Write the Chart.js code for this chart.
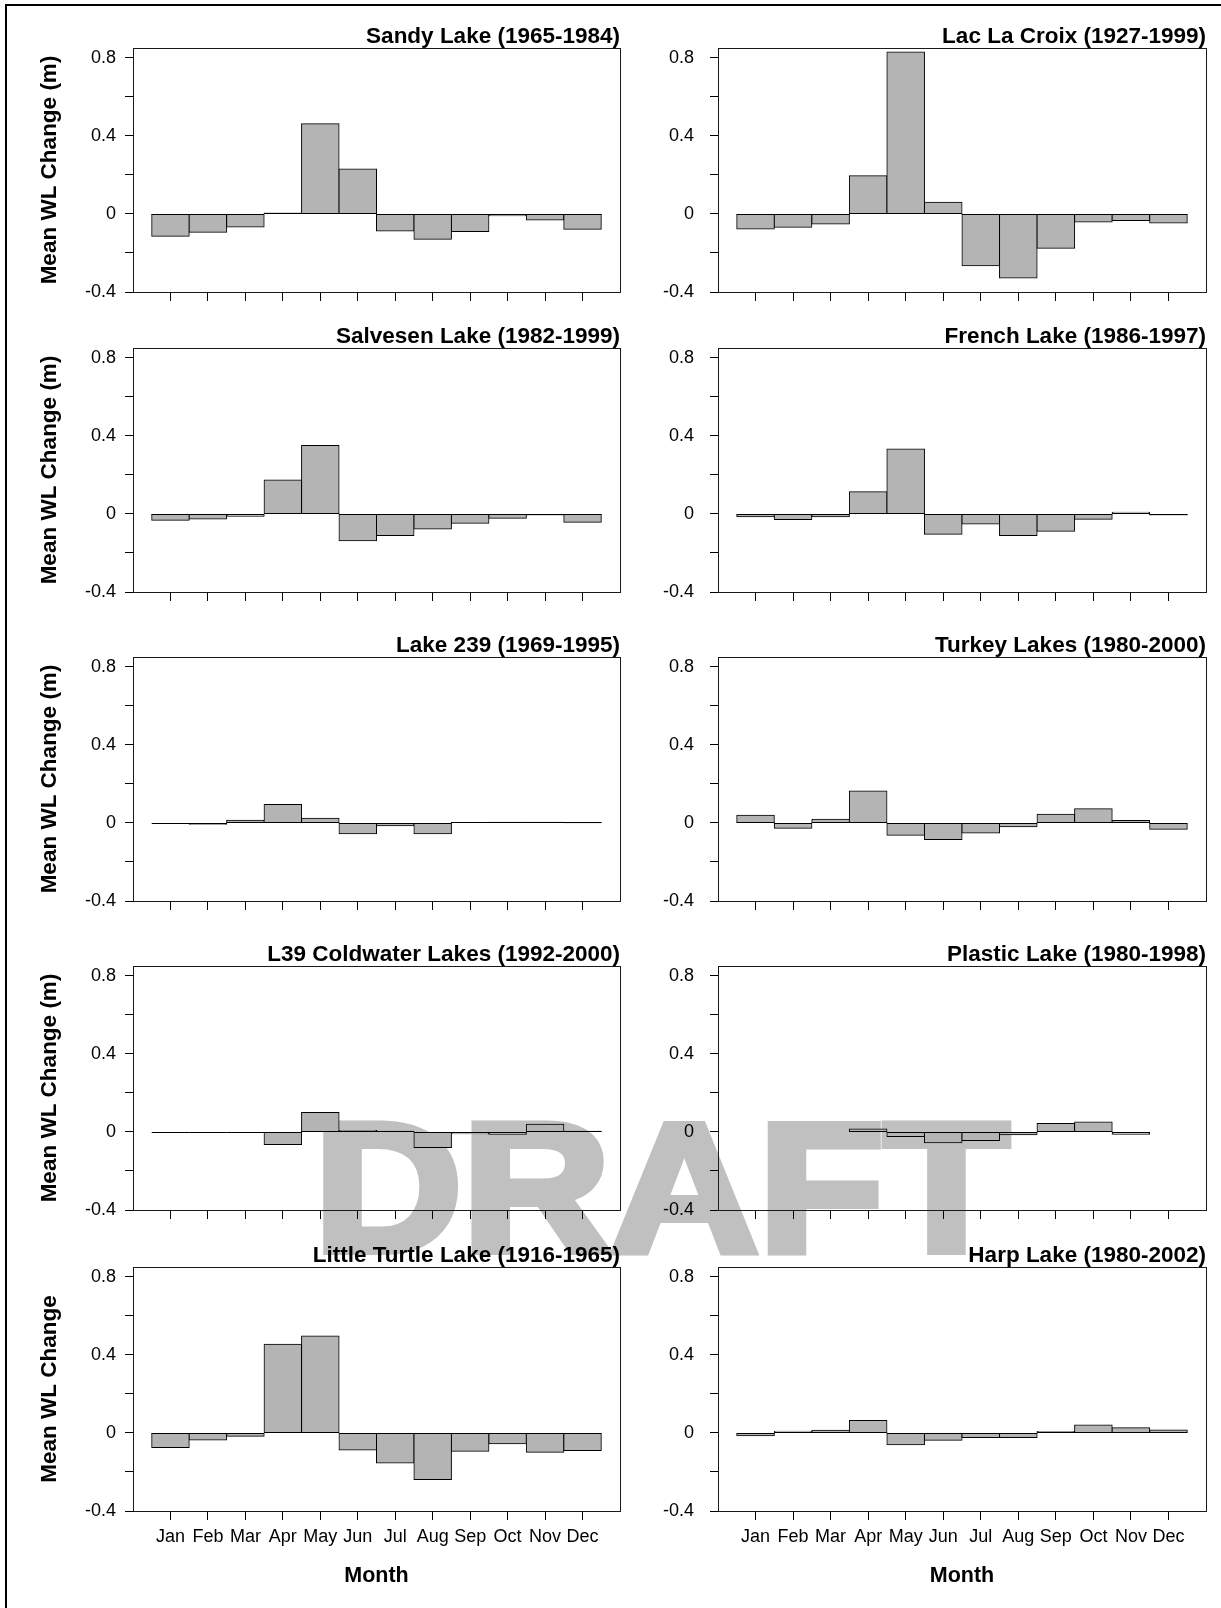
<!DOCTYPE html>
<html lang="en">
<head>
  <meta charset="UTF-8">
  <title>Mean Monthly Water Level Change</title>
  <script src="https://cdn.jsdelivr.net/npm/chart.js@4"></script>
  <style>
    body {
      margin: 0;
      width: 1221px;
      height: 1608px;
      position: relative;
      overflow: hidden;
      background: #ffffff;
      font-family: 'Liberation Sans', Arial, sans-serif;
    }

    .page-frame {
      position: absolute;
      left: 5px;
      top: 4px;
      right: 0;
      bottom: 0;
      border-top: 2px solid #000;
      border-left: 2px solid #000;
    }

    .draft {
      position: absolute;
      left: 314px;
      top: 1095px;
      font-family: 'Liberation Sans', Arial, sans-serif;
      font-size: 184px;
      font-weight: 700;
      line-height: 1;
      color: #c0c0c0;
      -webkit-text-stroke: 8px #c0c0c0;
      white-space: nowrap;
      transform: scaleX(1.115);
      transform-origin: 0 0;
      z-index: 0;
    }

    canvas {
      position: absolute;
      z-index: 1;
    }
  </style>
</head>
<body>

  <div class="page-frame"></div>
  <div class="draft">DRAFT</div>

  <script>
    // data (m), Jan..Dec; null = no bar
    const months = ['Jan', 'Feb', 'Mar', 'Apr', 'May', 'Jun', 'Jul', 'Aug', 'Sep', 'Oct', 'Nov', 'Dec'];

    const sandyLake     = [-0.114, -0.094, -0.067, 0.005, 0.462, 0.230, -0.087, -0.130, -0.090, -0.009, -0.031, -0.078];
    const lacLaCroix    = [-0.077, -0.068, -0.051, 0.196, 0.829, 0.060, -0.266, -0.328, -0.176, -0.041, -0.034, -0.046];
    const salvesenLake  = [-0.032, -0.026, -0.012, 0.174, 0.350, -0.138, -0.111, -0.077, -0.048, -0.022, -0.005, -0.043];
    const frenchLake    = [-0.014, -0.029, -0.015, 0.113, 0.333, -0.104, -0.051, -0.111, -0.089, -0.027, 0.009, -0.005];
    const lake239       = [0, -0.007, 0.014, 0.094, 0.024, -0.055, -0.015, -0.055, 0.002, 0.003, 0.003, 0.001];
    const turkeyLakes   = [0.039, -0.027, 0.019, 0.164, -0.063, -0.085, -0.051, -0.019, 0.044, 0.073, 0.012, -0.032];
    const l39Coldwater  = [0, 0, 0, -0.065, 0.099, 0.007, 0.003, -0.080, -0.010, -0.012, 0.039, 0.003];
    const plasticLake   = [null, null, null, 0.015, -0.024, -0.055, -0.044, -0.015, 0.043, 0.051, -0.012, null];
    const littleTurtle  = [-0.075, -0.036, -0.017, 0.454, 0.497, -0.087, -0.154, -0.239, -0.094, -0.055, -0.099, -0.090];
    const harpLake      = [-0.015, 0.009, 0.014, 0.063, -0.060, -0.038, -0.024, -0.024, 0.007, 0.041, 0.026, 0.015];

    const titles = [
      'Sandy Lake (1965-1984)', 'Lac La Croix (1927-1999)',
      'Salvesen Lake (1982-1999)', 'French Lake (1986-1997)',
      'Lake 239 (1969-1995)', 'Turkey Lakes (1980-2000)',
      'L39 Coldwater Lakes (1992-2000)', 'Plastic Lake (1980-1998)',
      'Little Turtle Lake (1916-1965)', 'Harp Lake (1980-2002)'
    ];
    const series = [sandyLake, lacLaCroix, salvesenLake, frenchLake, lake239,
                    turkeyLakes, l39Coldwater, plasticLake, littleTurtle, harpLake];

    const yMin = -0.4;
    const yMax = 0.85;
    const yStep = 0.2;
    const yLabels = [-0.4, 0, 0.4, 0.8];

    // page layout
    const colLeft = [10, 600];
    const colWidth = [612, 608];
    const axisWidth = [123, 118];
    const labelPad = [9, 16];
    const rowTop = [23, 323, 632, 941, 1242];
    const titleH = 25;
    const plotH = 244;

    Chart.defaults.font.family = "'Liberation Sans', Arial, sans-serif";
    Chart.defaults.color = '#000';

    // box round the plot area
    const framePlugin = {
      id: 'frame',
      afterDatasetsDraw(chart) {
        const { ctx, chartArea: a } = chart;
        const l = Math.round(a.left), t = Math.round(a.top);
        const r = Math.round(a.right), b = Math.round(a.bottom);
        ctx.save();
        ctx.strokeStyle = '#1a1a1a';
        ctx.lineWidth = 1;
        ctx.strokeRect(l + 0.5, t + 0.5, r - l, b - t);
        ctx.restore();
      }
    };

    // zero line under each bar (also shows the zero-valued months)
    const basePlugin = {
      id: 'baseLine',
      afterDatasetsDraw(chart) {
        const ctx = chart.ctx;
        const values = chart.data.datasets[0].data;
        ctx.save();
        ctx.strokeStyle = '#000';
        ctx.lineWidth = 1;
        chart.getDatasetMeta(0).data.forEach((bar, i) => {
          if (values[i] === null) return;
          const y = Math.round(bar.base) + 0.5;
          ctx.beginPath();
          ctx.moveTo(bar.x - bar.width / 2, y);
          ctx.lineTo(bar.x + bar.width / 2, y);
          ctx.stroke();
        });
        ctx.restore();
      }
    };

    function makePanel(k) {
      const col = k % 2;
      const row = Math.floor(k / 2);
      const last = row === rowTop.length - 1;
      const xH = last ? 80 : 9;

      const canvas = document.createElement('canvas');
      canvas.width = colWidth[col];
      canvas.height = titleH + plotH + xH;
      canvas.style.left = colLeft[col] + 'px';
      canvas.style.top = rowTop[row] + 'px';
      document.body.appendChild(canvas);

      // empty slot at each end, months on the ticks in between
      const labels = [''].concat(months, ['']);
      const data = [null].concat(series[k], [null]);

      new Chart(canvas, {
        type: 'bar',
        data: {
          labels: labels,
          datasets: [{
            data: data,
            backgroundColor: '#b4b4b4',
            borderColor: '#000',
            borderWidth: 1,
            borderSkipped: false,
            inflateAmount: 0.5,
            barPercentage: 1,
            categoryPercentage: 1
          }]
        },
        options: {
          responsive: false,
          animation: false,
          events: [],
          layout: { padding: { left: 0, top: 0, bottom: 0, right: 2 } },
          plugins: {
            legend: { display: false },
            tooltip: { enabled: false },
            title: {
              display: true,
              text: titles[k],
              align: 'end',
              color: '#000',
              font: { size: 22.5, weight: 'bold', lineHeight: 1.2 },
              padding: { top: 0, bottom: -2 }
            }
          },
          scales: {
            x: {
              type: 'category',
              offset: false,
              border: { display: false },
              grid: {
                offset: false,
                drawOnChartArea: false,
                drawTicks: true,
                tickLength: 9,
                color: c => (c.index === 0 || c.index === labels.length - 1) ? 'rgba(0,0,0,0)' : '#000'
              },
              ticks: {
                display: last,
                autoSkip: false,
                maxRotation: 0,
                padding: 6,
                color: '#000',
                font: { size: 18 }
              },
              title: {
                display: last,
                text: 'Month',
                color: '#000',
                font: { size: 21.5, weight: 'bold' },
                padding: { top: 0, bottom: 2 }
              },
              afterFit: s => {
                s.height = xH;
                s.paddingLeft = 0;
                s.paddingRight = 0;
              }
            },
            y: {
              min: yMin,
              max: yMax,
              border: { display: false },
              grid: { drawOnChartArea: false, tickLength: 8, color: '#000' },
              ticks: {
                stepSize: yStep,
                includeBounds: false,
                padding: labelPad[col],
                color: '#000',
                font: { size: 18 },
                callback: v => {
                  const l = yLabels.find(t => Math.abs(t - v) < 1e-6);
                  return l === undefined ? '' : String(l);
                }
              },
              title: {
                display: col === 0,
                text: last ? 'Mean WL Change' : 'Mean WL Change (m)',
                color: '#000',
                font: { size: 22.5, weight: 'bold' },
                padding: { top: 26, bottom: 0 }
              },
              afterFit: s => {
                s.width = axisWidth[col];
                s.paddingTop = 0;
                s.paddingBottom = 0;
              }
            }
          }
        },
        plugins: [framePlugin, basePlugin]
      });
    }

    for (let k = 0; k < series.length; k++) makePanel(k);
  </script>

</body>
</html>
